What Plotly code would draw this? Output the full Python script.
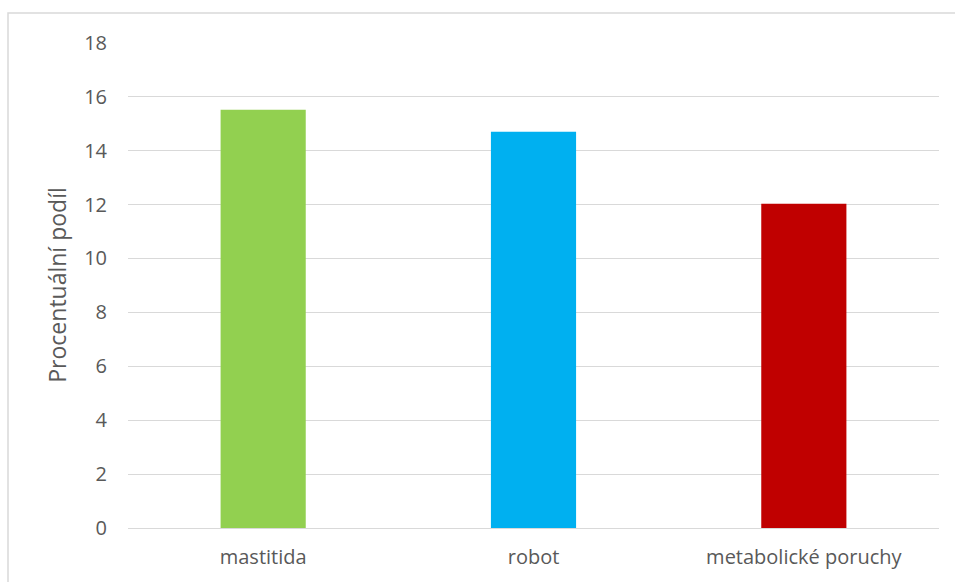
import plotly.graph_objects as go

categories = ["mastitida", "robot", "metabolické poruchy"]
values = [15.52, 14.70, 12.03]
colors = ["#92D050", "#00B0F0", "#C00000"]
y_ticks = [0, 2, 4, 6, 8, 10, 12, 14, 16, 18]

W, H = 955, 582
L, R, T, B = 128, 16, 42, 54
pw, ph = W - L - R, H - T - B

fig = go.Figure(go.Bar(x=categories, y=values, marker=dict(color=colors, line=dict(width=0)),
                       width=0.315))

font_family = "Open Sans, Liberation Sans, sans-serif"
fig.update_layout(
    width=W, height=H,
    margin=dict(l=L, r=R, t=T, b=B),
    paper_bgcolor="white", plot_bgcolor="white",
    showlegend=False,
    font=dict(family=font_family, color="#595959", size=20),
    xaxis=dict(showgrid=False, showline=False, ticks="", ticklabelstandoff=15,
               tickfont=dict(size=20, color="#595959")),
    yaxis=dict(range=[0, 18.03], tickvals=y_ticks, showgrid=True, gridcolor="#D9D9D9", gridwidth=1,
               zeroline=True, zerolinecolor="#D9D9D9", zerolinewidth=1,
               showline=False, ticks="", ticklen=0, ticklabelstandoff=20,
               tickfont=dict(size=20, color="#595959"),
               title=dict(text="Procentuální podíl", font=dict(size=23, color="#595959"), standoff=11)),
    bargap=0.685,
)

x0 = (8 - L) / pw
y1 = 1 + (T - 13) / ph
fig.add_shape(type="rect", xref="paper", yref="paper", x0=x0, x1=1.2, y0=-0.5, y1=y1,
              line=dict(color="#D9D9D9", width=1.5), fillcolor="rgba(0,0,0,0)", layer="below")

fig.write_html("out.html")
